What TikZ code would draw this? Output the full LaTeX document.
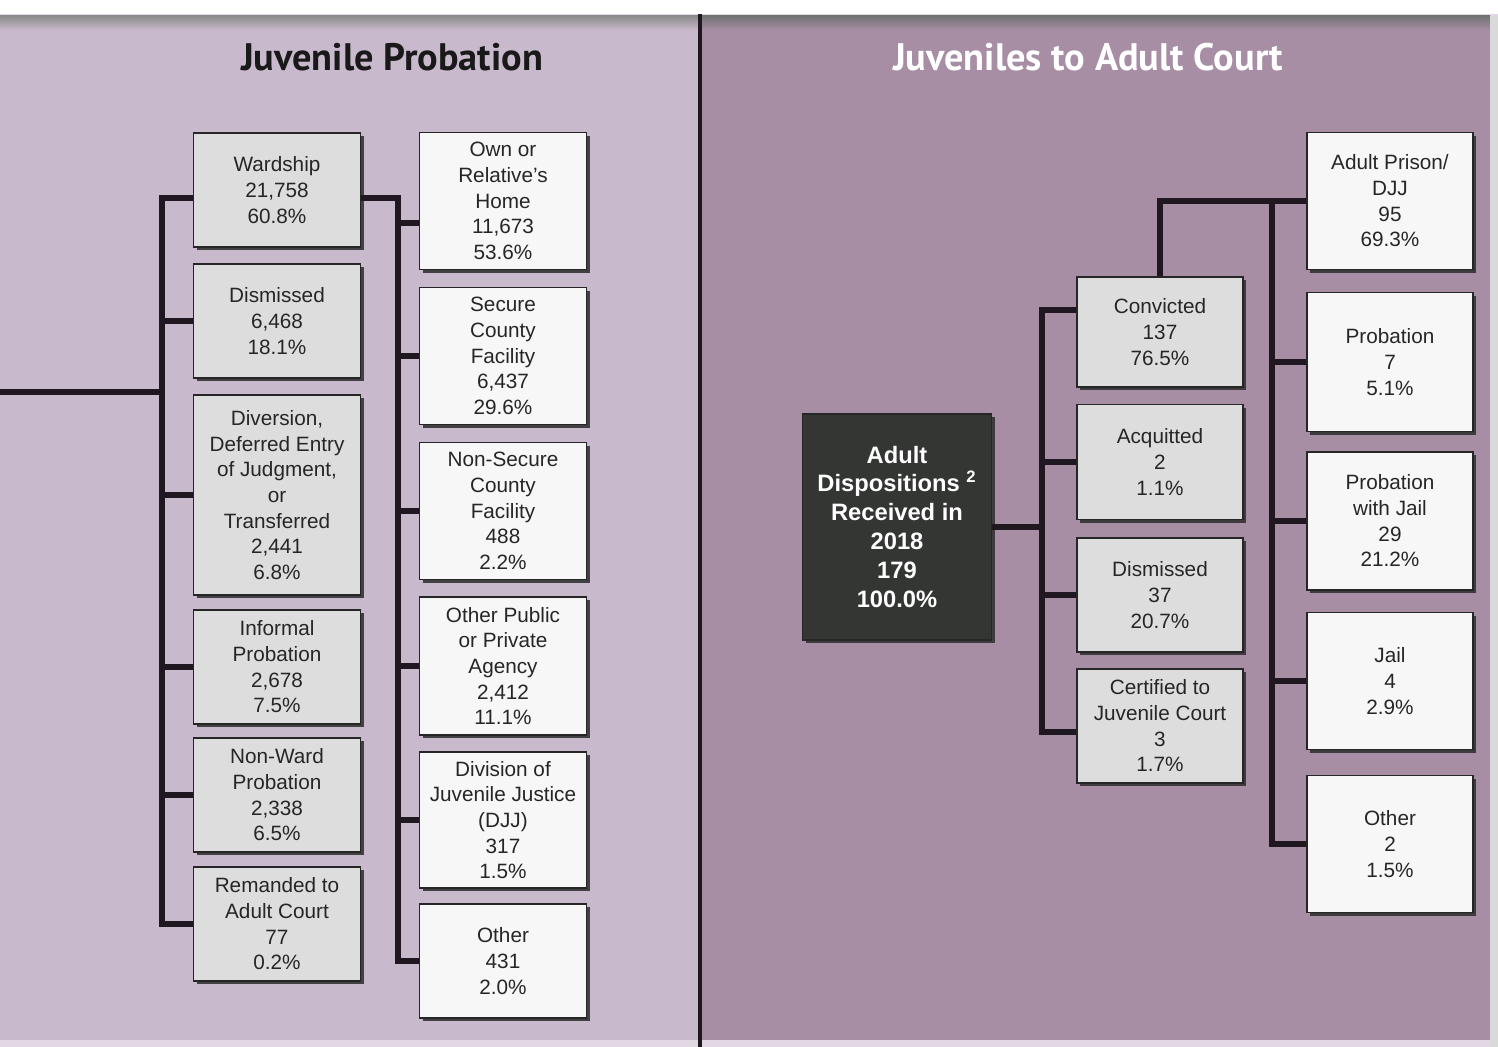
\documentclass[tikz,border=0pt]{standalone}
\usepackage{fontspec}
\setmainfont{Liberation Sans}
\newfontfamily\headfont{PT Sans}
\usetikzlibrary{positioning, shadows}

\definecolor{lavender}{RGB}{201,185,204}
\definecolor{mauve}{RGB}{167,142,165}
\definecolor{barline}{RGB}{32,24,32}
\definecolor{boxgray}{RGB}{221,221,221}
\definecolor{boxwhite}{RGB}{247,247,247}
\definecolor{darkbox}{RGB}{52,54,52}

\begin{document}
\begin{tikzpicture}[
  x=0.02cm, y=-0.02cm,
  box/.style={draw=black!85, line width=0.9pt, align=center, inner sep=1pt,
              minimum width=3.34cm, minimum height=2.28cm, text=black!85,
              font=\fontsize{11.8}{14.6}\selectfont,
              drop shadow={shadow xshift=1.8pt, shadow yshift=-1.8pt,
                           fill=black!80, opacity=0.9}},
  graybox/.style={box, fill=boxgray},
  whitebox/.style={box, fill=boxwhite},
  darkbx/.style={box, fill=darkbox, text=white,
                 font=\fontsize{13.5}{16.5}\selectfont\bfseries},
  head/.style={font=\headfont\fontsize{21.8}{25}\selectfont\bfseries},
  conn/.style={draw=barline, line width=3.2pt},
]
  \useasboundingbox (0,0) rectangle (1498,1047);

  %% -- panels --
  \fill[lavender!55] (0,0) rectangle (1498,1047);
  \fill[white] (0,0) rectangle (1498,14);
  \fill[lavender] (0,16) rectangle (699,1040);
  \fill[mauve] (701,16) rectangle (1490,1040);
  \shade[top color=black!45, bottom color=lavender] (0,16) rectangle (699,30);
  \shade[top color=black!55, bottom color=mauve] (701,16) rectangle (1490,30);
  \fill[black!15] (1490,16) rectangle (1498,1047);
  \draw[barline, line width=2.2pt] (700,14) -- (700,1047);

  %% -- Juvenile Probation --
  \node[head, text=black!90] (jhead) at (392,57) {Juvenile Probation};

  \node[graybox] (ward) at (277,190) {Wardship\\21,758\\60.8\%};
  \node[graybox] (dism) at (277,321) {Dismissed\\6,468\\18.1\%};
  \node[graybox, minimum height=4cm] (divr) at (277,495)
    {Diversion,\\Deferred Entry\\of Judgment,\\or\\Transferred\\2,441\\6.8\%};
  \node[graybox] (info) at (277,667) {Informal\\Probation\\2,678\\7.5\%};
  \node[graybox] (nonw) at (277,795) {Non-Ward\\Probation\\2,338\\6.5\%};
  \node[graybox] (rema) at (277,924) {Remanded to\\Adult Court\\77\\0.2\%};

  \node[whitebox, minimum height=2.74cm] (own) at (503,201)
    {Own or\\Relative's\\Home\\11,673\\53.6\%};
  \node[whitebox, minimum height=2.74cm] (secu) at (503,356)
    {Secure\\County\\Facility\\6,437\\29.6\%};
  \node[whitebox, minimum height=2.74cm] (nsec) at (503,511)
    {Non-Secure\\County\\Facility\\488\\2.2\%};
  \node[whitebox, minimum height=2.76cm] (opub) at (503,666)
    {Other Public\\or Private\\Agency\\2,412\\11.1\%};
  \node[whitebox, minimum height=2.72cm] (djj) at (503,820)
    {Division of\\Juvenile Justice\\(DJJ)\\317\\1.5\%};
  \node[whitebox] (oth) at (503,961) {Other\\431\\2.0\%};

  %% -- Juveniles to Adult Court --
  \node[head, text=white] (ahead) at (1088,57) {Juveniles to Adult Court};

  \node[darkbx, minimum width=3.78cm, minimum height=4.52cm] (adlt)
    at (897,527)
    {Adult\\Dispositions \textsuperscript{2}\\Received in\\2018\\179\\100.0\%};

  \node[graybox, minimum width=3.32cm, minimum height=2.2cm] (conv)
    at (1160,332) {Convicted\\137\\76.5\%};
  \node[graybox, minimum width=3.32cm, minimum height=2.3cm] (acq)
    at (1160,462) {Acquitted\\2\\1.1\%};
  \node[graybox, minimum width=3.32cm] (dis2)
    at (1160,595) {Dismissed\\37\\20.7\%};
  \node[graybox, minimum width=3.32cm] (cert)
    at (1160,726) {Certified to\\Juvenile Court\\3\\1.7\%};

  \node[whitebox, minimum width=3.32cm, minimum height=2.74cm] (pris)
    at (1390,201) {Adult Prison/\\DJJ\\95\\69.3\%};
  \node[whitebox, minimum width=3.32cm, minimum height=2.78cm] (prob)
    at (1390,362) {Probation\\7\\5.1\%};
  \node[whitebox, minimum width=3.32cm, minimum height=2.76cm] (pwj)
    at (1390,521) {Probation\\with Jail\\29\\21.2\%};
  \node[whitebox, minimum width=3.32cm, minimum height=2.74cm] (jail)
    at (1390,681) {Jail\\4\\2.9\%};
  \node[whitebox, minimum width=3.32cm, minimum height=2.74cm] (oth2)
    at (1390,844) {Other\\2\\1.5\%};

  %% -- connectors --
  \coordinate (lin) at (0,392);
  \draw[conn] (lin) -- ++(164,0);
  \draw[conn] ([yshift=-0.16cm]ward.west) -- ++(-31,0) |- (rema.west);
  \foreach \b in {dism,divr,info,nonw}
    \draw[conn] (\b.west) -- ++(-33,0);

  \draw[conn] ([yshift=-0.16cm]ward.east) -- ++(37,0) |- (oth.west);
  \draw[conn] ([yshift=-0.44cm]own.west) -- ++(-24,0);
  \foreach \b in {secu,nsec,opub,djj}
    \draw[conn] (\b.west) -- ++(-24,0);

  \draw[conn] (adlt.east) -- ++(53,0);
  \draw[conn] ([yshift=0.44cm]conv.west) -- ++(-34,0)
    |- ([yshift=-0.12cm]cert.west);
  \foreach \b in {acq,dis2}
    \draw[conn] (\b.west) -- ++(-36,0);

  \draw[conn] (conv.north) |- (pris.west);
  \draw[conn] (pris.west) -- ++(-34,0) |- (oth2.west);
  \foreach \b in {prob,pwj,jail}
    \draw[conn] (\b.west) -- ++(-36,0);
\end{tikzpicture}
\end{document}
